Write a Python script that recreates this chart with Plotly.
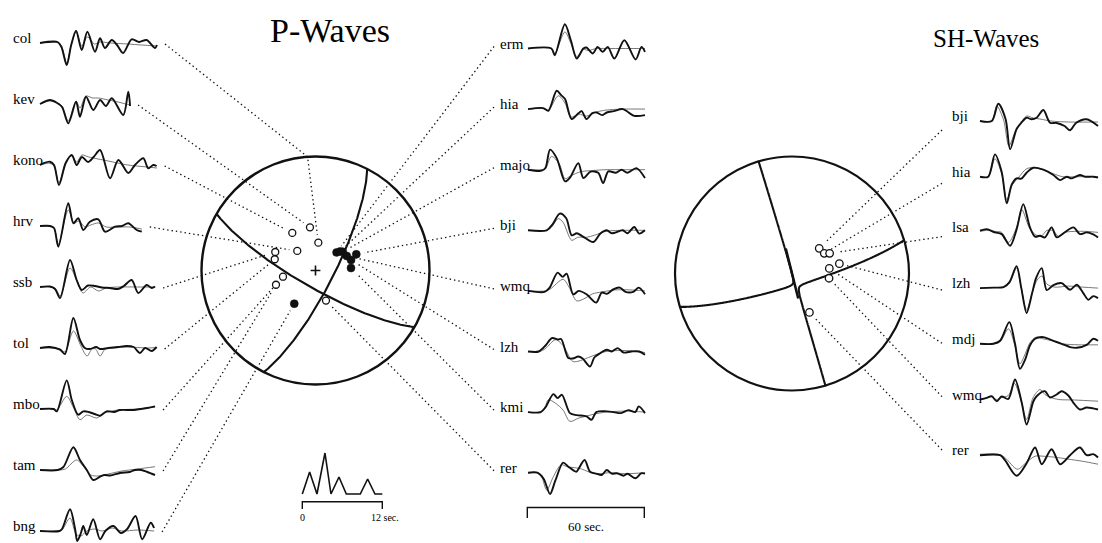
import numpy as np
import plotly.graph_objects as go

W, H = 1102, 543

# ---------------------------------------------------------------- stations
P_LEFT = ["col", "kev", "kono", "hrv", "ssb", "tol", "mbo", "tam", "bng"]
P_RIGHT = ["erm", "hia", "majo", "bji", "wmq", "lzh", "kmi", "rer"]
SH_STATIONS = ["bji", "hia", "lsa", "lzh", "mdj", "wmq", "rer"]

# fault plane of the mechanism (degrees)
STRIKE, DIP, RAKE = 27.0, 77.0, -12.3

# P first motions: azimuth, take-off angle (deg), 1 = compression
P_AZ = [5.8, 352.7, 328.3, 317.0, 294.7, 285.4, 259.2, 250.2, 212.6,
        49.4, 52.2, 55.4, 68.3, 65.1, 73.5, 86.0, 160.8]
P_TAKEOFF = [20.0, 31.3, 31.8, 19.1, 31.9, 30.4, 23.7, 30.2, 28.3,
             19.8, 22.2, 23.7, 31.6, 24.7, 26.6, 25.5, 22.8]
P_POL = [0, 0, 0, 0, 0, 0, 0, 0, 1,
         1, 1, 1, 1, 1, 1, 1, 0]

# SH stations on the focal sphere
SH_AZ = [47.2, 58.0, 61.8, 78.3, 82.3, 97.3, 155.9]
SH_TAKEOFF = [25.9, 26.6, 29.9, 34.0, 26.3, 26.1, 29.9]

# source time function (s, relative moment rate)
STF_T = [0, 1.1, 2.2, 3.4, 4.3, 5.5, 6.6, 8.7, 9.8, 10.9, 12]
STF_A = [0, 22, 0, 41, 0, 17, 0, 0, 15, 0, 0]

# ---------------------------------------------------------------- P waveforms
# (time s, amplitude) knots; OBS = observed, SYN = synthetic
P_COL_OBS = [(0, 0), (9, 1), (11, -4), (13.7, -22), (16, -2), (18.5, 12.3), (21.4, -7), (24.3, 11.3),
             (28.2, -8.7), (30.8, 4.7), (33.3, -5), (36.8, 3), (39.5, -2), (42.6, -10), (47, 3.7),
             (50.8, 1), (54.7, 3), (59, -5), (60, -2)]
P_COL_SYN = [(0, 0), (9, 0.5), (11, -3), (13.7, -20), (16, -2), (18.5, 11), (21.4, -3), (24.3, 6),
             (28, -1), (31, 1), (36, 0), (45, -1), (52, -2), (60, -3)]
P_KEV_OBS = [(0, 0), (5.1, 4), (8.6, 1.3), (11.3, -3), (14.5, -19.3), (18.5, 2.3), (20.5, -12.7),
             (23.6, 7.3), (27.3, -6), (30.8, 4), (33.8, -2), (36.8, 5.7), (42.7, -11), (45.3, 12.3),
             (46.2, -2)]
P_KEV_SYN = [(0, 0), (5, 3), (9, 1), (11.3, -2), (14.5, -17), (18.5, 3), (20.5, -4), (23.5, 8),
             (27, 6), (30, 6), (35, 4), (40, 2), (44, 0), (46.2, -1)]
P_KONO_OBS = [(0, 0), (1.7, 1.7), (5.1, 3.3), (7.2, 0), (9.7, -20), (13.2, 2), (16.3, 10), (18.8, 0),
              (21.5, 8), (24.6, 3), (27.5, 8), (30.8, 15), (35.9, -13.3), (40.2, 5), (45.3, -8),
              (48.7, 0), (53, 6.7), (55.5, -3.3), (58.1, 0), (59.8, -1)]
P_KONO_SYN = [(0, 0), (5, 1.7), (7.2, -1), (9.7, -18), (13.2, 3), (16.3, 9), (18.8, 3), (21.5, 10),
              (25, 8), (35, 4), (45, 0), (55, -2), (60, -3)]
P_HRV_OBS = [(0, 0), (5.1, 0), (7.2, -2), (9.4, -20.7), (14.5, 22.7), (17.1, 2.7), (19.6, 7.7),
             (22.2, -4), (25.6, 4.3), (29.9, 6.7), (33.3, -5.7), (38.5, -0.7), (42, 0), (45.3, 2.7),
             (49.6, -4), (52.2, -5.7)]
P_HRV_SYN = [(0, 0), (5.1, 0), (7.2, -2), (9.4, -18), (14.5, 16), (17.5, 3), (20, 5), (23, -1),
             (26, 1), (30, 3), (34, -1), (40, -1), (46, -1), (52.2, -3)]
P_SSB_OBS = [(0, 0), (5.1, 0.5), (7.7, -2), (10.3, -11), (15.4, 27), (18.8, 7), (21.4, -3),
             (24.6, 1.5), (28.2, 1), (31.8, -0.5), (35.9, -1), (40, -2), (43, 1), (47, 7),
             (50.4, -6), (54.7, 2), (57.3, -1), (59, 0.5)]
P_SSB_SYN = [(0, 0), (7.7, -1), (10.3, -9), (15.4, 19), (19, 6), (22, -6), (26, 0), (30, -4),
             (34, -1), (40, 0), (50, 0), (59, 0)]
P_TOL_OBS = [(0, 0), (5.1, 1), (10.3, -1.7), (12.8, -6), (17.1, 30), (20.5, 8), (23, 0), (25.6, -1),
             (28.8, 1), (30.8, -1), (35, 0), (40, 1), (44.4, 2), (48, 1), (51.3, -5), (53.9, 0),
             (57.3, -3), (59.8, 1)]
P_TOL_SYN = [(0, 0), (10.3, -1), (12.8, -4), (17.1, 17), (21, 2), (24.1, -8), (26.7, -1),
             (28.5, -1), (30.8, -8), (33.5, -1), (38, 0), (45, 1), (55, 0), (59.8, 0.5)]
P_MBO_OBS = [(0, 0), (7, 0), (8.6, -2.4), (13.7, 28.6), (16.3, 9), (19.6, -5.7), (22.2, -2.4),
             (25, -3), (28, -5), (30.8, -6.7), (34.2, -2.4), (38, -3), (41, -1), (48, -1),
             (55, 1), (59, 2.6)]
P_MBO_SYN = [(0, 0), (7, 0), (8.6, -1), (13.7, 12.6), (17, 2), (20.5, -10.7), (24, -6), (29.1, -9),
             (33, -4), (40, -1), (50, 0), (59, 2)]
P_TAM_OBS = [(0, 0), (9, 0), (12, 3), (17.1, 22.7), (20.5, 10), (24, 0), (27.3, -10), (30.8, -6.7),
             (33, -5), (36, -5.5), (41, -3), (46, -2), (48.7, 0), (52, 0), (55, -2), (59, -5)]
P_TAM_SYN = [(0, 0), (10, 0), (13, 1), (18.8, 10), (22.5, 3), (26, -5), (30, -6), (35, -4),
             (42, -1), (50, 1), (59, 3.3)]
P_BNG_OBS = [(0, 0), (10, 0), (11.3, 2), (15.4, 21.7), (18, 2), (19.1, -10), (21, -2), (22.2, 5),
             (24, -4), (27.3, 11.7), (30.8, -8.3), (33.5, 0), (37.6, 5), (41.5, -2), (44.7, 2),
             (49, 15), (52.4, -8.3), (56.8, 8.3), (58.5, 3)]
P_BNG_SYN = [(0, 0), (10, 0), (11.3, 1), (15.4, 13), (18.5, -3), (21, -5), (24, 0), (28, 2),
             (32, 0), (37, 3), (42, 0), (50, 1), (58.5, 0)]

P_ERM_OBS = [(0, 0), (12, 0), (13.7, -6.7), (18.9, 24.3), (22, 8), (25, -10), (28.4, 0), (30, 1),
             (33.2, -5), (35.7, 1.6), (38.3, -3.4), (40.9, 1.6), (44.3, -10), (49.4, 8.3),
             (55.2, -11), (58.2, 1.6), (60, -3.4)]
P_ERM_SYN = [(0, 0), (12, 0), (13.7, -5), (18.9, 16.6), (22, 5), (25, -8), (28.4, -1), (31, -2),
             (35, 0), (40, 0), (50, 0), (60, 0)]
P_HIA_OBS = [(0, 0), (7.8, 1), (10.4, -1.7), (14.7, 18.3), (17, 14), (19, 10), (22.4, -10),
             (26, -4), (27.5, -2), (30, -10), (33, -4), (35.2, -3.4), (38, -6), (40.4, -3.4),
             (44, -2), (48.6, 0), (54.5, -6.7), (60, -6)]
P_HIA_SYN = [(0, 0), (8, 0.5), (10.5, -1), (15.5, 13.3), (19, 6), (22, -8), (26, -5), (30, -7),
             (35, -3), (40, -1), (48, 0), (60, 0)]
P_MAJO_OBS = [(0, 0), (7, -1), (9, 2), (11.3, 20), (14.7, 11.6), (19, -11.7), (21.5, -8),
              (25.8, 6.6), (28.4, -8.4), (32, -2), (36, -3), (38.5, -13.4), (41.2, -1.7), (45, -3),
              (48, 0), (51, -3), (55.6, 1.6), (60, -8.4)]
P_MAJO_SYN = [(0, 0), (7, 0), (9, 1), (12, 13.3), (16, 6), (19, -9), (22, -6), (27, -2), (32, -1),
              (40, 0), (50, 0), (60, 0)]
P_BJI_OBS = [(0, 0), (9.6, 0), (12.6, 6), (16.3, 16.7), (19.6, 12), (22.4, -5), (25, -3), (28, -6),
             (33.5, -11.7), (37, -3.4), (40.4, 0), (43, -3), (48.6, 0), (51, -3), (54.5, 3.3),
             (57, -3.3), (60, 0)]
P_BJI_SYN = [(0, 0), (9.6, 0), (12, 3), (15.5, 11.7), (18, 8), (22.4, -10), (25.5, -7), (30, -7),
             (34, -5), (40, -1), (50, 0), (60, 0)]
P_WMQ_OBS = [(0, 0), (8.5, -1), (11, 3), (15.2, 18.3), (17.8, 14), (19.8, 17.3), (23.2, -3.4),
             (26, 0), (30, -3.4), (35, -11.7), (37.8, -1.7), (40.5, -3), (43.7, 1.6), (47.1, 3.3),
             (50, -1), (54, -1), (56.8, 3.3), (60, -3.4)]
P_WMQ_SYN = [(0, 0), (9, 0), (11.5, 2), (18, 11.6), (21, 4), (25, -10), (29.6, -7), (33, -3),
             (38, -1), (45, 1), (52, 1), (60, 0)]
P_LZH_OBS = [(0, 0), (5.5, 0), (9, 6), (12.2, 13.4), (15.6, 12), (17, 12.5), (20.7, -6.6), (23, -7),
             (25.8, -5), (28, -7), (31.8, -15), (34, -6), (37, -1.7), (40.4, 1.7), (43, 0),
             (46, 3.4), (49, -1), (53, 0), (57, 0), (60, -3.3)]
P_LZH_SYN = [(0, 0), (6, 0), (9, 3), (14, 11.7), (18, 6), (23, -10), (27, -9), (31, -6), (35, -3),
             (40, 0), (50, 1), (60, -1)]
P_KMI_OBS = [(0, 0), (6.5, 0), (9, 5), (13, 18), (15.2, 14), (17.4, 17.3), (21.5, -1), (25, -3),
             (30, -4.3), (32.6, -7.7), (35, 0), (39, 1), (44, 0), (47.7, -1), (51.5, 2), (55, 0),
             (56.8, 5.7), (60, -1)]
P_KMI_SYN = [(0, 0), (6.5, 0), (8.5, 3), (10.4, 12.3), (14, 9), (18, 2), (21.5, -9.3), (26, -6),
             (30, -4), (34, -2), (40, 0), (50, 1), (60, 0)]
P_RER_OBS = [(0, 0), (4.8, 0), (8, -6), (11.3, -21.3), (14, -8), (18, 10), (20.7, 6), (23.5, 2),
             (24.8, 1), (29, 12.7), (31.8, 1), (35, -1), (37.8, -2.3), (40.4, 2.7), (43, -1),
             (45.6, -0.6), (49, -3), (51, -1), (55.2, -5.6), (58, -0.6), (60, -1)]
P_RER_SYN = [(0, 0), (4.8, 0), (7, -4), (9.6, -17.3), (13, -4), (17, 8), (20, 6), (24, 5), (27, 4),
             (31, 1), (36, -1), (42, 0), (50, -1), (60, 0)]

# ---------------------------------------------------------------- SH waveforms
SH_BJI_OBS = [(0, 0), (6, 0), (9.3, 17.3), (13, 2), (15.3, -28.3), (18.6, -8), (21, -1.7),
              (23.7, 3.3), (26.2, 1.7), (28.8, 3.3), (32.2, 11), (35.6, -1.7), (39, -2), (43, -5),
              (45.8, -9.3), (48.8, -2), (54.2, 1.7), (60, -5)]
SH_BJI_SYN = [(0, 0), (6, 0), (8.5, 15), (12, 1), (14.7, -25), (18, -10), (20.5, -3), (23.7, 5),
              (27, 3), (30.5, 2), (36, 0), (45, -1), (60, -1)]
SH_HIA_OBS = [(0, 0), (4.2, 0), (7.6, 22.3), (11, 5), (13.6, -26.7), (16.1, -8), (18.6, -1.7),
              (21, -2), (23.7, 4), (27.1, 9), (32.2, 7), (37.3, 1.7), (40.7, -3.4), (44.1, 0),
              (46.6, -1.7), (50.8, 1.7), (53.4, 0), (57.6, 0), (60, -1)]
SH_HIA_SYN = [(0, 0), (4.2, 0), (7.6, 18), (11, 3), (13.6, -23), (16.5, -8), (19.5, -1), (23.7, 8),
              (27.1, 9), (32.2, 7), (37.3, 3), (42, 0), (50, 0), (60, 0)]
SH_LSA_OBS = [(0, 1.7), (3.4, 3.3), (7.6, 0), (11, -1.7), (15.3, -13.3), (18.6, 3), (22, 28.3),
              (25.4, 5), (28, -4.3), (30.5, -3.3), (33, -5), (36.4, 5), (39, -5), (42.4, -1),
              (47.5, 5), (50.8, -1.7), (54.2, 0), (57.6, -2), (60, -5)]
SH_LSA_SYN = [(0, 1), (3.4, 2), (7.6, 1), (11, 0), (14.5, -10), (18.6, 5), (21.2, 23), (25, 5),
              (28, -2), (31, -4), (34, 2), (37, 2), (40, -4), (43, 0), (48, 1), (54, 1), (60, 0)]
SH_LZH_OBS = [(0, 0), (6.8, 0.5), (12, 1), (15, 6), (18.6, 22), (21, 0), (23.7, -25), (26.5, -5),
              (28.5, 10), (31.4, 20), (33.9, -2), (37.3, 3), (41.5, 5), (45.8, -1.7), (49.2, 3.3),
              (52.5, -5), (55.1, -11.7), (57.6, -8), (60, -10)]
SH_LZH_SYN = [(0, 0), (7, 0.5), (12, 1), (15, 5), (18.6, 20), (21, 0), (23.7, -22), (26.5, -5),
              (29, 8), (31.4, 12), (34, 4), (38, 1), (45, 2), (52, 1), (60, 0)]
SH_MDJ_OBS = [(0, 0), (6.8, 0), (10.2, 3), (14.9, 21.7), (17.8, 0), (20.3, -25), (22.9, -16),
              (25.4, -1.7), (28, 5), (32.2, 6.7), (37.3, 3), (41.5, 0), (45.8, -3.3), (49.2, -4),
              (54.2, -1), (57.6, 5), (60, 3)]
SH_MDJ_SYN = [(0, 0), (6.8, 0), (10.2, 2), (14.5, 15), (17.5, 0), (20.3, -20), (23, -10),
              (25.4, 1), (28.5, 6.7), (32, 5), (37, 3), (42, 0), (50, -1), (60, -1)]
SH_WMQ_OBS = [(0, 0), (3.4, 1.7), (5.9, 3.3), (8.5, -1.7), (11, 3), (14.4, 0.5), (17.8, 20),
              (21.2, -3), (23.7, -25), (27.1, -2), (28.8, 3.3), (33, 8.3), (35.6, 2), (39, 5),
              (41.5, 8.3), (44.9, 4), (47.5, -3.3), (50.8, -10), (54.2, -8), (60, -10)]
SH_WMQ_SYN = [(0, 0), (3.4, 1.5), (5.9, 2.5), (8.5, 0), (11, 2), (14.4, 4), (17.5, 16), (21, -2),
              (23.7, -20), (27, 2), (30.5, 10), (33, 5), (36, 2), (40, 0), (48, -0.5), (60, -1.7)]
SH_RER_OBS = [(0, 0), (10.2, 0), (12.7, -5), (18.6, -20.6), (23.7, -8), (28, 7.7), (31.4, -9),
              (36.4, 6), (40.7, -9), (45.8, 0), (50.8, 7.7), (54.2, 0), (57.6, 1), (60, -2.3)]
SH_RER_SYN = [(0, 1), (10.2, 0.5), (13, -3), (19, -14), (23.7, -7), (28, -1), (32, -1), (38, -2),
              (45, -4), (52, -6), (60, -9)]

P_LEFT_OBS = [P_COL_OBS, P_KEV_OBS, P_KONO_OBS, P_HRV_OBS, P_SSB_OBS, P_TOL_OBS, P_MBO_OBS,
              P_TAM_OBS, P_BNG_OBS]
P_LEFT_SYN = [P_COL_SYN, P_KEV_SYN, P_KONO_SYN, P_HRV_SYN, P_SSB_SYN, P_TOL_SYN, P_MBO_SYN,
              P_TAM_SYN, P_BNG_SYN]
P_RIGHT_OBS = [P_ERM_OBS, P_HIA_OBS, P_MAJO_OBS, P_BJI_OBS, P_WMQ_OBS, P_LZH_OBS, P_KMI_OBS,
               P_RER_OBS]
P_RIGHT_SYN = [P_ERM_SYN, P_HIA_SYN, P_MAJO_SYN, P_BJI_SYN, P_WMQ_SYN, P_LZH_SYN, P_KMI_SYN,
               P_RER_SYN]
SH_OBS = [SH_BJI_OBS, SH_HIA_OBS, SH_LSA_OBS, SH_LZH_OBS, SH_MDJ_OBS, SH_WMQ_OBS, SH_RER_OBS]
SH_SYN = [SH_BJI_SYN, SH_HIA_SYN, SH_LSA_SYN, SH_LZH_SYN, SH_MDJ_SYN, SH_WMQ_SYN, SH_RER_SYN]

# ---------------------------------------------------------------- layout constants
FONT = "Liberation Serif"
P_BALL = (315.5, 270.5, 114.0)      # centre x, centre y, radius (px)
SH_BALL = (792.0, 273.5, 117.0)
P_SEC = 1.95                        # px per second on P traces
SH_SEC = 1.967
LEFT_X0, RIGHT_X0, SH_X0 = 40.0, 528.0, 980.0
LEFT_BASE0, LEFT_STEP = 43.0, 61.0
RIGHT_BASE0, RIGHT_STEP = 48.5, 60.6
SH_BASE0, SH_STEP = 121.0, 55.7
LEADER_GAP = 8.0
OBS_W, SYN_W = 1.9, 0.8
OBS_C, SYN_C = "#111111", "#555555"
LEADER_DASH = "1.4px,3px"

fig = go.Figure()


def add_line(xs, ys, width, color, dash="solid", shape="linear"):
    fig.add_trace(go.Scatter(
        x=list(xs), y=list(ys), mode="lines",
        line=dict(width=width, color=color, dash=dash, shape=shape, smoothing=0.85),
        hoverinfo="skip", showlegend=False))


def project(az, takeoff, ball):
    """Lower-hemisphere equal-area projection into page pixels."""
    cx, cy, R = ball
    az = np.radians(np.asarray(az, dtype=float))
    i = np.radians(np.asarray(takeoff, dtype=float))
    r = np.sqrt(2.0) * np.sin(i / 2.0)
    return cx + R * r * np.sin(az), cy - R * r * np.cos(az)


def plane_trace(strike, dip, ball):
    phi, dl = np.radians(strike), np.radians(dip)
    a = np.linspace(0, np.pi, 241)
    s = np.array([np.cos(phi), np.sin(phi), 0.0])
    d = np.array([-np.sin(phi) * np.cos(dl), np.cos(phi) * np.cos(dl), np.sin(dl)])
    v = np.outer(np.cos(a), s) + np.outer(np.sin(a), d)
    plunge = np.degrees(np.arcsin(np.clip(v[:, 2], -1, 1)))
    az = np.degrees(np.arctan2(v[:, 1], v[:, 0]))
    return project(az, 90.0 - plunge, ball)


def auxiliary_plane(strike, dip, rake):
    phi, dl, lam = np.radians([strike, dip, rake])
    slip = np.array([np.cos(lam) * np.cos(phi) + np.sin(lam) * np.cos(dl) * np.sin(phi),
                     np.cos(lam) * np.sin(phi) - np.sin(lam) * np.cos(dl) * np.cos(phi),
                     -np.sin(lam) * np.sin(dl)])
    if slip[2] > 0:
        slip = -slip
    dip2 = np.degrees(np.arccos(-slip[2]))
    strike2 = np.degrees(np.arctan2(-slip[0], slip[1])) % 360
    return strike2, dip2


def draw_wave(knots, x0, base, sx, width, color):
    t = np.array([k[0] for k in knots], dtype=float)
    a = np.array([k[1] for k in knots], dtype=float)
    add_line(x0 + t * sx, base - a, width, color, shape="spline")
    return x0 + t[-1] * sx


def leader(start, target, via=None):
    pts = [np.array(start, dtype=float)]
    if via is not None:
        pts.append(np.array(via, dtype=float))
    tgt = np.array(target, dtype=float)
    u = pts[-1] - tgt
    u /= np.hypot(*u)
    pts.append(tgt + LEADER_GAP * u)
    xs, ys = zip(*pts)
    add_line(xs, ys, 1.3, "#111111", dash=LEADER_DASH)


def label(x, y, text, size=15, anchor="left"):
    fig.add_annotation(x=x, y=y, text=text, showarrow=False, xanchor=anchor, yanchor="middle",
                       font=dict(family=FONT, size=size, color="#000000"))


# ---------------------------------------------------------------- P polarity positions
p_x, p_y = project(P_AZ, P_TAKEOFF, P_BALL)
sh_x, sh_y = project(SH_AZ, SH_TAKEOFF, SH_BALL)

# ---------------------------------------------------------------- left P column
bend = {"col": 356.0}   # leader routed through the rim at this azimuth
for k, name in enumerate(P_LEFT):
    base = LEFT_BASE0 + k * LEFT_STEP
    draw_wave(P_LEFT_SYN[k], LEFT_X0, base, P_SEC, SYN_W, SYN_C)
    x_end = draw_wave(P_LEFT_OBS[k], LEFT_X0, base, P_SEC, OBS_W, OBS_C)
    label(11, base - 5, name)
    via = None
    if name in bend:
        vx, vy = project(bend[name], 90.0, P_BALL)
        via = (float(vx), float(vy))
    leader((x_end + 8, base + 1), (p_x[k], p_y[k]), via)

# ---------------------------------------------------------------- right P column
nL = len(P_LEFT)
for k, name in enumerate(P_RIGHT):
    base = RIGHT_BASE0 + k * RIGHT_STEP
    draw_wave(P_RIGHT_SYN[k], RIGHT_X0, base, P_SEC, SYN_W, SYN_C)
    draw_wave(P_RIGHT_OBS[k], RIGHT_X0, base, P_SEC, OBS_W, OBS_C)
    label(498, base - 5, name)
    leader((494, base - 2), (p_x[nL + k], p_y[nL + k]))

# ---------------------------------------------------------------- SH column
sh_lead_y = np.linspace(130, 450, len(SH_STATIONS))
for k, name in enumerate(SH_STATIONS):
    base = SH_BASE0 + k * SH_STEP
    draw_wave(SH_SYN[k], SH_X0, base, SH_SEC, SYN_W, SYN_C)
    draw_wave(SH_OBS[k], SH_X0, base, SH_SEC, OBS_W, OBS_C)
    label(950, base - 5, name)
    leader((942, sh_lead_y[k]), (sh_x[k], sh_y[k]))

# ---------------------------------------------------------------- P focal sphere
strike2, dip2 = auxiliary_plane(STRIKE, DIP, RAKE)
for stk, dp in [(STRIKE, DIP), (strike2, dip2)]:
    gx, gy = plane_trace(stk, dp, P_BALL)
    add_line(gx, gy, 2.1, "#111111")

cx, cy, R = P_BALL
fig.add_shape(type="circle", x0=cx - R, x1=cx + R, y0=cy - R, y1=cy + R,
              line=dict(color="#111111", width=2.4))
fig.add_trace(go.Scatter(x=[cx], y=[cy], mode="markers", hoverinfo="skip", showlegend=False,
                         marker=dict(symbol="cross-thin", size=7, line=dict(width=1.6, color="#111111"))))

pol = np.array(P_POL)
fig.add_trace(go.Scatter(x=p_x[pol == 0], y=p_y[pol == 0], mode="markers", hoverinfo="skip",
                         showlegend=False,
                         marker=dict(symbol="circle", size=7, color="white",
                                     line=dict(width=1.3, color="#111111"))))
fig.add_trace(go.Scatter(x=p_x[pol == 1], y=p_y[pol == 1], mode="markers", hoverinfo="skip",
                         showlegend=False,
                         marker=dict(symbol="circle", size=8, color="#111111",
                                     line=dict(width=0.5, color="#111111"))))

# ---------------------------------------------------------------- SH focal sphere (nodal lines of SH radiation)
scx, scy, sR = SH_BALL
gxs = np.linspace(scx - sR - 2, scx + sR + 2, 301)
gys = np.linspace(scy - sR - 2, scy + sR + 2, 301)
GX, GY = np.meshgrid(gxs, gys)
ex = (GX - scx) / sR
en = (scy - GY) / sR
rr = np.hypot(ex, en)
azg = np.arctan2(ex, en)
ig = 2 * np.arcsin(np.clip(rr / np.sqrt(2.0), 0, 1))
phs, dl, lam = np.radians([STRIKE, DIP, RAKE])
dphi = azg - phs
f_sh = (np.cos(lam) * np.cos(dl) * np.cos(ig) * np.sin(dphi)
        + np.cos(lam) * np.sin(dl) * np.sin(ig) * np.cos(2 * dphi)
        + np.sin(lam) * np.cos(2 * dl) * np.cos(ig) * np.cos(dphi)
        - 0.5 * np.sin(lam) * np.sin(2 * dl) * np.sin(ig) * np.sin(2 * dphi))
f_sh[rr > 1.0 + 1.0 / sR] = np.nan
fig.add_trace(go.Contour(x=gxs, y=gys, z=f_sh, autocontour=False,
                         contours=dict(start=0, end=0, size=1, coloring="none"),
                         line=dict(color="#111111", width=2.1, smoothing=0.8),
                         showscale=False, showlegend=False, hoverinfo="skip"))

# nodal direction of SH radiation at vertical take-off (limit i -> 0)
az0 = np.degrees(phs + np.arctan2(-np.sin(lam) * np.cos(2 * dl), np.cos(lam) * np.cos(dl)))
seg_r = np.linspace(-0.22, 0.22, 3)
add_line(scx + sR * seg_r * np.sin(np.radians(az0)), scy - sR * seg_r * np.cos(np.radians(az0)),
         2.6, "#111111")

fig.add_shape(type="circle", x0=scx - sR, x1=scx + sR, y0=scy - sR, y1=scy + sR,
              line=dict(color="#111111", width=2.2))
fig.add_trace(go.Scatter(x=sh_x, y=sh_y, mode="markers", hoverinfo="skip", showlegend=False,
                         marker=dict(symbol="circle", size=7.5, color="white",
                                     line=dict(width=1.3, color="#111111"))))

# ---------------------------------------------------------------- source time function and scale bars
STF_X0, STF_BASE = 302.3, 494.0
stf_sec = 80.0 / 12.0
add_line(STF_X0 + np.array(STF_T) * stf_sec, STF_BASE - np.array(STF_A), 1.6, "#111111")
sx1 = STF_X0 + STF_T[-1] * stf_sec
add_line([STF_X0, STF_X0, sx1, sx1], [509, 501.7, 501.7, 509], 1.4, "#111111")
label(STF_X0, 517, "0", size=10, anchor="center")
label(sx1 + 3, 517, "12 sec.", size=10, anchor="center")

bar_x0 = 527.3
bar_x1 = bar_x0 + 60 * P_SEC
add_line([bar_x0, bar_x0, bar_x1, bar_x1], [518, 507.5, 507.5, 518], 1.4, "#111111")
label((bar_x0 + bar_x1) / 2, 526, "60 sec.", size=13, anchor="center")

# ---------------------------------------------------------------- titles
label(330, 30, "P-Waves", size=34, anchor="center")
label(986, 38, "SH-Waves", size=25, anchor="center")

fig.update_layout(
    width=W, height=H, margin=dict(l=0, r=0, t=0, b=0),
    paper_bgcolor="white", plot_bgcolor="white", hovermode=False, showlegend=False,
    xaxis=dict(range=[0, W], visible=False, fixedrange=True),
    yaxis=dict(range=[H, 0], visible=False, fixedrange=True),
)
fig.write_html("out.html")
